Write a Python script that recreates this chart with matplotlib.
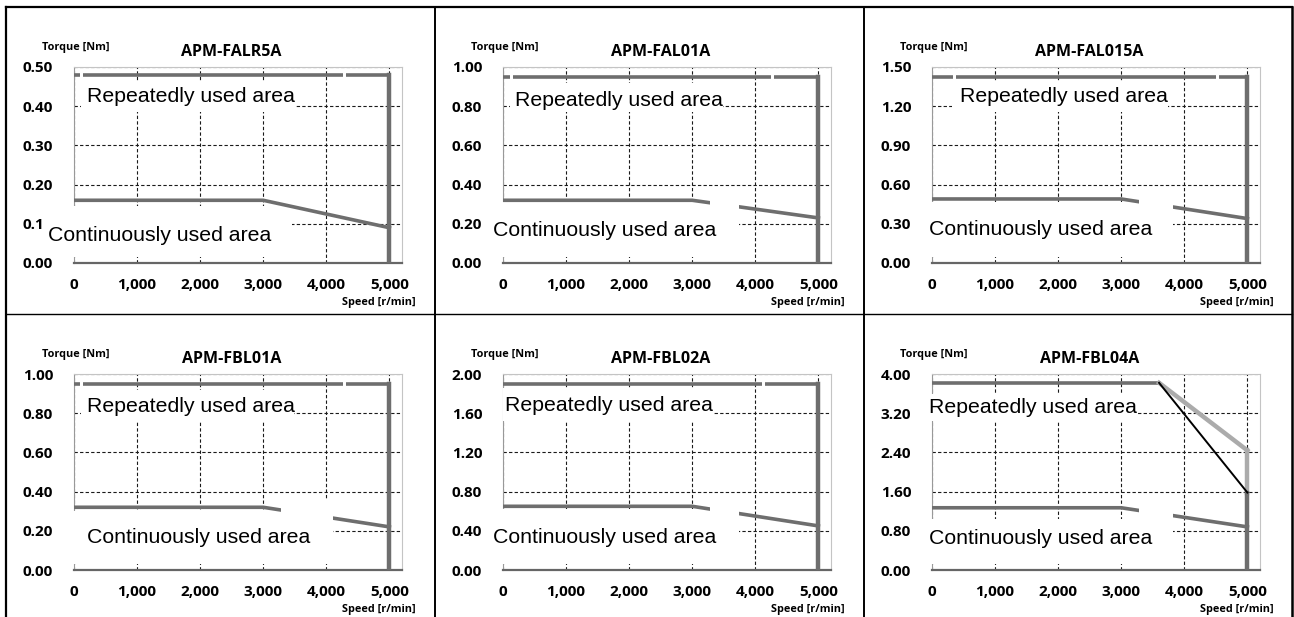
"""Torque-speed curves for six servo motors, 2x3 table layout."""
import matplotlib
matplotlib.use("Agg")
import matplotlib.pyplot as plt
from matplotlib.lines import Line2D
from matplotlib.patches import Rectangle

# --- data ---
models = ["APM-FALR5A", "APM-FAL01A", "APM-FAL015A",
          "APM-FBL01A", "APM-FBL02A", "APM-FBL04A"]
torque_max = [0.5, 1.0, 1.5, 1.0, 2.0, 4.0]
rep_torque = [0.48, 0.95, 1.42, 0.95, 1.90, 3.82]
cont_torque = [0.16, 0.32, 0.49, 0.32, 0.65, 1.27]
cont_torque_at_max = [0.09, 0.23, 0.34, 0.22, 0.45, 0.88]
speed_ticks = [0, 1000, 2000, 3000, 4000, 5000]
speed_knee = 3000
speed_max = 5000
# APM-FBL04A repeated area drops above the knee
fbl04_knee = 3600
fbl04_end_gray = 2.44
fbl04_end_black = 1.58

# --- layout (pixels of a 1294x617 picture, axes fractions for masks) ---
W, H = 1294, 617
col_left = [74, 503, 932]
row_top = [67, 374]
ax_w, ax_h = 328, 196

# white patches that hide parts of the grid, as in the scanned original
rep_text = [(0.04, 0.847), (0.037, 0.83), (0.085, 0.847), (0.04, 0.836), (0.006, 0.84), (-0.01, 0.83)]
rep_mask = [(0.02, 0.77, 0.675, 0.93), (0.02, 0.77, 0.67, 0.92), (0.06, 0.77, 0.72, 0.93),
            (0.02, 0.76, 0.67, 0.92), (0.0, 0.76, 0.64, 0.93), (-0.02, 0.76, 0.625, 0.90)]
cont_text = [(-0.08, 0.138), (-0.03, 0.168), (-0.01, 0.173), (0.04, 0.164), (-0.03, 0.164), (-0.01, 0.16)]
cont_mask = [(-0.09, 0.03, 0.665, 0.29), (-0.04, 0.03, 0.72, 0.31), (-0.02, 0.03, 0.735, 0.31),
             (-0.005, 0.03, 0.79, 0.30), (-0.04, 0.03, 0.72, 0.31), (-0.02, 0.03, 0.735, 0.26)]
gap_mask = [None, (0.63, 0.25, 0.72, 0.36), (0.63, 0.25, 0.735, 0.36),
            (0.63, 0.24, 0.79, 0.36), (0.63, 0.25, 0.72, 0.36), (0.63, 0.24, 0.735, 0.36)]
top_gaps = [[0.018, 0.82], [0.021, 0.817], [0.064, 0.866], [0.018, 0.82], [0.79], []]

CURVE = "#6e6e6e"
LIGHT = "#ababab"
BOLD_FONT = ["Open Sans", "DejaVu Sans"]
ARIAL = ["Liberation Sans", "DejaVu Sans"]

fig = plt.figure(figsize=(W / 100, H / 100), dpi=100)

for i, name in enumerate(models):
    r, c = divmod(i, 3)
    left = col_left[c] / W
    bottom = 1 - (row_top[r] + ax_h) / H
    ax = fig.add_axes([left, bottom, ax_w / W, ax_h / H])
    ymax = torque_max[i]
    ax.set_xlim(0, 5200)
    ax.set_ylim(0, ymax)
    ax.set_xticks(speed_ticks)
    ax.set_xticklabels([f"{s:,}" for s in speed_ticks], family=BOLD_FONT, fontweight="bold", fontsize=11)
    yt = [ymax * k / 5 for k in range(6)]
    ax.set_yticks(yt)
    ax.set_yticklabels([f"{v:.2f}" for v in yt], family=BOLD_FONT, fontweight="bold", fontsize=11)
    ax.tick_params(length=0, pad=15)
    ax.tick_params(axis="x", pad=11)
    ax.grid(True, color="#1a1a1a", lw=0.8, ls=(0, (3, 2)))
    ax.spines["bottom"].set_color("#666666")
    ax.spines["bottom"].set_linewidth(1.6)
    ax.spines["left"].set_color("#999999")
    for s in ("top", "right"):
        ax.spines[s].set_color("#c4c4c4")
    for s in ax.spines.values():
        s.set_zorder(2.2)

    # masks over grid
    for m in (rep_mask[i], cont_mask[i]):
        ax.add_patch(Rectangle((m[0], m[1]), m[2] - m[0], m[3] - m[1], transform=ax.transAxes,
                               facecolor="white", edgecolor="none", zorder=2.6, clip_on=False))

    # repeated area
    if name == "APM-FBL04A":
        ax.plot([0, fbl04_knee], [rep_torque[i]] * 2, color=CURVE, lw=2.6, zorder=3)
        ax.plot([fbl04_knee, speed_max], [rep_torque[i], fbl04_end_gray], color=LIGHT, lw=3.2, zorder=3)
        ax.plot([speed_max, speed_max], [fbl04_end_gray, fbl04_end_black], color=LIGHT, lw=3.2, zorder=3)
        ax.plot([speed_max, speed_max], [fbl04_end_black, 0], color=CURVE, lw=3.2, zorder=3)
        ax.plot([fbl04_knee, speed_max], [rep_torque[i], fbl04_end_black], color="black", lw=1.4, zorder=3.2)
    else:
        ax.plot([0, speed_max], [rep_torque[i]] * 2, color=CURVE, lw=2.6, zorder=3)
        ax.plot([speed_max, speed_max], [rep_torque[i], 0], color=CURVE, lw=3.2, zorder=3)

    # continuous area
    ax.plot([0, speed_knee, speed_max], [cont_torque[i], cont_torque[i], cont_torque_at_max[i]],
            color=CURVE, lw=2.6, zorder=3)

    if gap_mask[i] is not None:
        g = gap_mask[i]
        ax.add_patch(Rectangle((g[0], g[1]), g[2] - g[0], g[3] - g[1], transform=ax.transAxes,
                               facecolor="white", edgecolor="none", zorder=3.5, clip_on=False))
    for gx in top_gaps[i]:
        ax.add_patch(Rectangle((gx, 0.93), 0.01, 0.06, transform=ax.transAxes,
                               facecolor="white", edgecolor="none", zorder=3.5))

    ax.text(rep_text[i][0], rep_text[i][1], "Repeatedly used area", transform=ax.transAxes,
            family=ARIAL, fontsize=15.3, ha="left", va="center", zorder=5)
    ax.text(cont_text[i][0], cont_text[i][1], "Continuously used area", transform=ax.transAxes,
            family=ARIAL, fontsize=15.3, ha="left", va="center", zorder=5)

    ax.text(-0.098, 1.097, "Torque [Nm]", transform=ax.transAxes, family=BOLD_FONT,
            fontweight="bold", fontsize=7.8, ha="left", va="center")
    ax.text(0.48, 1.077, name, transform=ax.transAxes, family=BOLD_FONT,
            fontweight="bold", fontsize=11.5, ha="center", va="center")
    ax.text(1.043, -0.199, "Speed [r/min]", transform=ax.transAxes, family=BOLD_FONT,
            fontweight="bold", fontsize=7.8, ha="right", va="center")

# table border
def fline(x0, y0, x1, y1, lw):
    fig.add_artist(Line2D([x0 / W, x1 / W], [1 - y0 / H, 1 - y1 / H], color="black", lw=lw))

fline(6, 7, 1292, 7, 1.6)
fline(6, 7, 6, H, 1.6)
fline(1292, 7, 1292, H, 1.8)
fline(435, 7, 435, H, 1.4)
fline(864, 7, 864, H, 1.4)
fline(6, 314, 1292, 314, 1.0)

fig.savefig("out.png", dpi=100)
